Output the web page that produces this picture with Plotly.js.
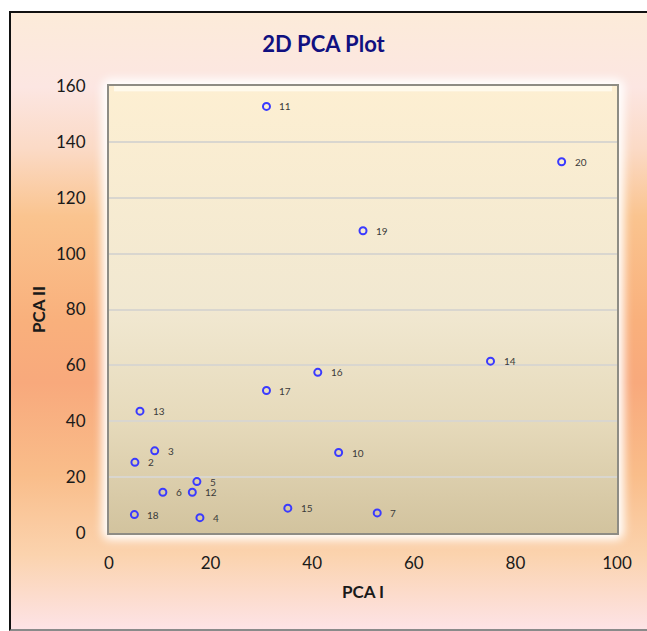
<!DOCTYPE html>
<html>
<head>
<meta charset="utf-8">
<script src="https://cdn.plot.ly/plotly-3.0.1.min.js"></script>
<style>
  html, body { margin: 0; padding: 0; background: #ffffff; }
  #wrap { position: relative; width: 647px; height: 631px; overflow: hidden; background: #ffffff; }
  #frame {
    position: absolute; left: 9px; top: 11px; width: 650px; height: 616px;
    border-left: 2px solid #111; border-top: 2px solid #111; border-bottom: 2px solid #8a8a8a;
    background: linear-gradient(to bottom,
      #fcebd9 0%, #fce6e2 12%, #fbdac6 22%, #fac48f 33%, #f9b07c 50%,
      #f8a97c 60%, #f9bd8a 75%, #fbd3ae 88%, #fde3e6 100%);
  }
  #glow {
    position: absolute; left: 102px; top: 79px; width: 522px; height: 461px;
    background: #ffffff; border-radius: 8px; filter: blur(5px);
  }
  #chart { position: absolute; left: 0; top: 0; width: 647px; height: 631px; }
</style>
</head>
<body>
<div id="wrap">
  <div id="frame"></div>
  <div id="glow"></div>
  <div id="chart"></div>
</div>
<script>
// Data
const labels = ["11", "20", "19", "14", "16", "17", "13", "3", "2", "10", "5", "6", "12", "18", "4", "15", "7"];
const pca1   = [31.0, 89.1, 50.0, 75.1, 41.1, 31.0, 6.1, 9.0, 5.1, 45.2, 17.3, 10.6, 16.4, 5.0, 17.9, 35.2, 52.8];
const pca2   = [152.7, 132.9, 108.2, 61.5, 57.5, 51.0, 43.6, 29.4, 25.3, 28.8, 18.4, 14.6, 14.6, 6.6, 5.5, 8.9, 7.2];
const xTicks = [0, 20, 40, 60, 80, 100];
const yTicks = [0, 20, 40, 60, 80, 100, 120, 140, 160];

const font = "Lato, 'Open Sans', 'Liberation Sans', sans-serif";

const bgSvg = '<svg xmlns="http://www.w3.org/2000/svg" width="100" height="100" preserveAspectRatio="none">' +
  '<defs><linearGradient id="g" x1="0" y1="0" x2="0" y2="1">' +
  '<stop offset="0" stop-color="#fdefd2"/>' +
  '<stop offset="0.5" stop-color="#f1e8d1"/>' +
  '<stop offset="0.75" stop-color="#e6dabb"/>' +
  '<stop offset="1" stop-color="#d2c39e"/>' +
  '</linearGradient></defs>' +
  '<rect x="0" y="0" width="100" height="100" fill="url(#g)"/>' +
  '<rect x="1" y="0" width="98" height="1.2" fill="#fffbee" opacity="0.9"/>' +
  '</svg>';
const bgUri = "data:image/svg+xml;charset=utf-8," + encodeURIComponent(bgSvg);

const trace = {
  type: "scatter",
  mode: "markers",
  x: pca1,
  y: pca2,
  marker: { symbol: "circle-open", size: 7, color: "#3a3aff", line: { width: 2, color: "#3a3aff" } },
  hoverinfo: "x+y",
  showlegend: false
};

const annotations = labels.map((t, i) => ({
  x: pca1[i], y: pca2[i], xref: "x", yref: "y",
  text: t, showarrow: false, xanchor: "left", yanchor: "middle",
  xshift: 11, font: { family: font, size: 10, color: "#3a3a3a" }
}));

const layout = {
  width: 647, height: 631,
  margin: { l: 109, r: 30, t: 86, b: 98 },
  paper_bgcolor: "rgba(0,0,0,0)",
  plot_bgcolor: "rgba(0,0,0,0)",
  title: {
    text: "<b>2D PCA Plot</b>",
    font: { family: font, size: 22, color: "#101080" },
    x: 0.5, xanchor: "center", y: 0.93, yanchor: "middle", yref: "container"
  },
  xaxis: {
    range: [0, 100], tickvals: xTicks, ticktext: xTicks.map(String),
    showgrid: false, zeroline: false,
    showline: true, mirror: true, linecolor: "#8e8c84", linewidth: 2,
    ticks: "", ticklabelstandoff: 14,
    tickfont: { family: font, size: 17, color: "#1a1a1a" },
    title: { text: "<b>PCA I</b>", font: { family: font, size: 17, color: "#1a1a1a" }, standoff: 14 },
    fixedrange: true
  },
  yaxis: {
    range: [0, 160], tickvals: yTicks, ticktext: yTicks.map(String),
    showgrid: true, gridcolor: "#d9d6cf", gridwidth: 1.5, zeroline: false,
    showline: true, mirror: true, linecolor: "#8e8c84", linewidth: 2,
    ticks: "", ticklabelstandoff: 18,
    tickfont: { family: font, size: 17, color: "#1a1a1a" },
    title: { text: "<b>PCA II</b>", font: { family: font, size: 17, color: "#1a1a1a" }, standoff: 6 },
    fixedrange: true
  },
  images: [{
    source: bgUri, xref: "paper", yref: "paper", x: 0, y: 1, sizex: 1, sizey: 1,
    xanchor: "left", yanchor: "top", sizing: "stretch", layer: "below"
  }],
  annotations: annotations
};

Plotly.newPlot("chart", [trace], layout, { displayModeBar: false, staticPlot: false });
</script>
</body>
</html>
